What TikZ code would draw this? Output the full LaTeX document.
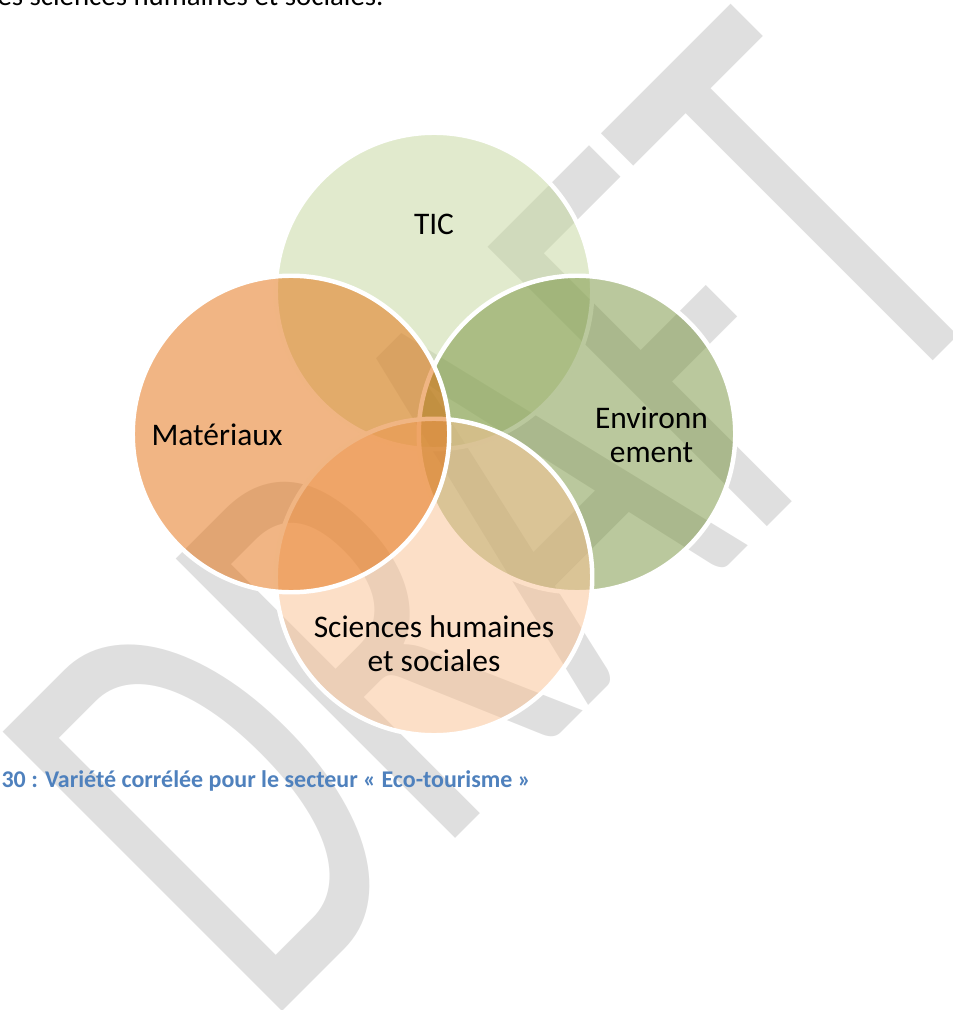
\documentclass[tikz,border=0pt]{standalone}
\usepackage{fontspec}
\setmainfont{Carlito}
\usepackage{graphicx}
\usetikzlibrary{calc}

\definecolor{ticfill}{HTML}{C3D69B}
\definecolor{envfill}{HTML}{76923C}
\definecolor{scifill}{HTML}{FAC090}
\definecolor{matfill}{HTML}{E36C09}
\definecolor{draftgray}{HTML}{DFDFDF}
\definecolor{captionblue}{HTML}{4F81BD}

\tikzset{
venn/.style = {circle, draw = white, line width = 1.7pt, fill opacity = .5,
   minimum size = 4.245cm, inner sep = 0pt},
vennlabel/.style = {font = \fontsize{12}{13}\selectfont, align = center,
   inner sep = 0pt, anchor = base},
draft/.style = {font = \fontsize{235}{235}\selectfont, text = draftgray,
   inner sep = 0pt, anchor = base west, rotate = 45},
bodytext/.style = {font = \fontsize{11}{13}\selectfont, inner sep = 0pt,
   anchor = base west},
caption/.style = {font = \bfseries\fontsize{9.15}{11}\selectfont, text = captionblue,
   inner sep = 0pt, anchor = base west}
}

\begin{document}
\begin{tikzpicture}[x = 0.013414cm, y = -0.013414cm]

\useasboundingbox (0,0) rectangle (952,1010);
\clip (0,0) rectangle (952,1010);

%%%% Watermark
\node [draft] (wm1) at (263,1031) {\scalebox{.642}[1]{DRAFT}};

%%%% Venn
%% Centre of the four circles
\coordinate (M0) at (434,434);

%% Circles
\node [venn, fill = ticfill] (S1) at ($(M0)+(0,-143)$) {};
\node [venn, fill = envfill] (S2) at ($(M0)+(143,0)$) {};
\node [venn, fill = scifill] (S3) at ($(M0)+(0,143)$) {};
\node [venn, fill = matfill] (S4) at ($(M0)+(-143,0)$) {};

%% Labels
\node [vennlabel] (L1) at (434,235) {TIC};
\node [vennlabel] (L2) at (651.5,462.5) {Environn\\ement};
\node [vennlabel] (L3) at (434,671.5) {Sciences humaines\\et sociales};
\node [vennlabel] (L4) at (217,445) {Matériaux};

%%%% Text
\node [bodytext] (txt1) at (-3,6) {es sciences humaines et sociales.};
\node [caption] (cap1) at (1,787) {30 : Variété corrélée pour le secteur « Eco-tourisme »};

\end{tikzpicture}
\end{document}
